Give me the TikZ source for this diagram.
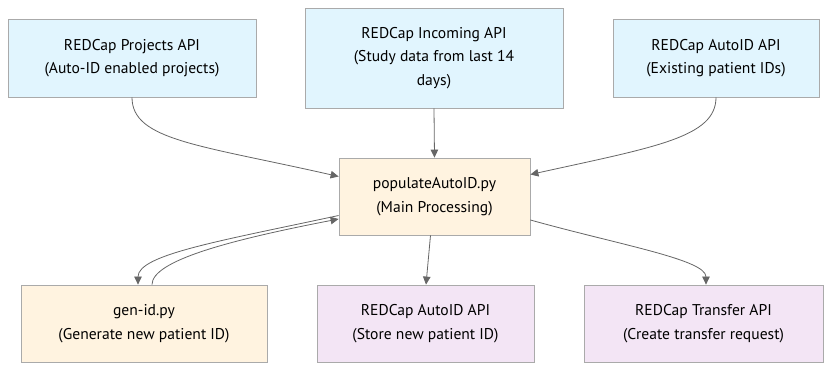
\documentclass[tikz,border=0pt]{standalone}
\usepackage{fontspec}
\setmainfont{PT Sans}
\usetikzlibrary{arrows.meta,calc}
\definecolor{srcfill}{HTML}{E1F5FE}
\definecolor{procfill}{HTML}{FFF3E0}
\definecolor{outfill}{HTML}{F3E5F5}
\definecolor{boxline}{HTML}{AAAAAA}
\definecolor{edgeline}{HTML}{666666}
\tikzset{
  box/.style={draw=boxline, line width=0.8pt, align=center, inner sep=0pt,
    font=\fontsize{15.6}{23.5}\selectfont},
  src/.style={box, fill=srcfill},
  proc/.style={box, fill=procfill},
  outbox/.style={box, fill=outfill},
  flow/.style={draw=edgeline, line width=0.8pt,
    -{Triangle[length=8pt,width=7.5pt]}, fill=none},
}
\begin{document}
\begin{tikzpicture}[x=1pt,y=-1pt]
\useasboundingbox (0,0) rectangle (839,374);
% sources
\node[src, minimum width=248, minimum height=78] (proj) at (132,58)
  {REDCap Projects API\\(Auto-ID enabled projects)};
\node[src, minimum width=258, minimum height=100] (inc) at (434,58)
  {REDCap Incoming API\\(Study data from last 14\\days)};
\node[src, minimum width=206, minimum height=78] (aidin) at (716,58)
  {REDCap AutoID API\\(Existing patient IDs)};
% main script
\node[proc, minimum width=191, minimum height=77] (pop) at (434.5,196.5)
  {populateAutoID.py\\(Main Processing)};
% outputs
\node[proc, minimum width=246, minimum height=77] (gen) at (144,323.5)
  {gen-id.py\\(Generate new patient ID)};
\node[outbox, minimum width=217, minimum height=77] (aidout) at (425.5,323.5)
  {REDCap AutoID API\\(Store new patient ID)};
\node[outbox, minimum width=239, minimum height=77] (xfer) at (703.5,323.5)
  {REDCap Transfer API\\(Create transfer request)};
% connectors
\draw[flow] (proj.south) .. controls ($(proj.south)+(0,43)$) and (200,145) .. ($(pop.west)+(0,-20)$);
\draw[flow] (inc.south) -- (pop.north);
\draw[flow] (aidin.south) .. controls ($(aidin.south)+(0,40)$) and (655,147) .. ($(pop.east)+(0,-22)$);
\draw[flow] ($(pop.south)+(-4,0)$) -- ($(aidout.north)+(0.5,0)$);
\draw[flow] ($(pop.east)+(0,23.5)$) .. controls (620,245) and ($(xfer.north)+(2.5,-25)$) .. ($(xfer.north)+(2.5,0)$);
\draw[flow] ($(pop.west)+(0,19)$) .. controls (220,241) and ($(gen.north)+(-6,-30)$) .. ($(gen.north)+(-6,0)$);
\draw[flow] ($(gen.north)+(8,0)$) .. controls ($(gen.north)+(8,-24)$) and (230,240) .. ($(pop.west)+(0,22.5)$);
\end{tikzpicture}
\end{document}
